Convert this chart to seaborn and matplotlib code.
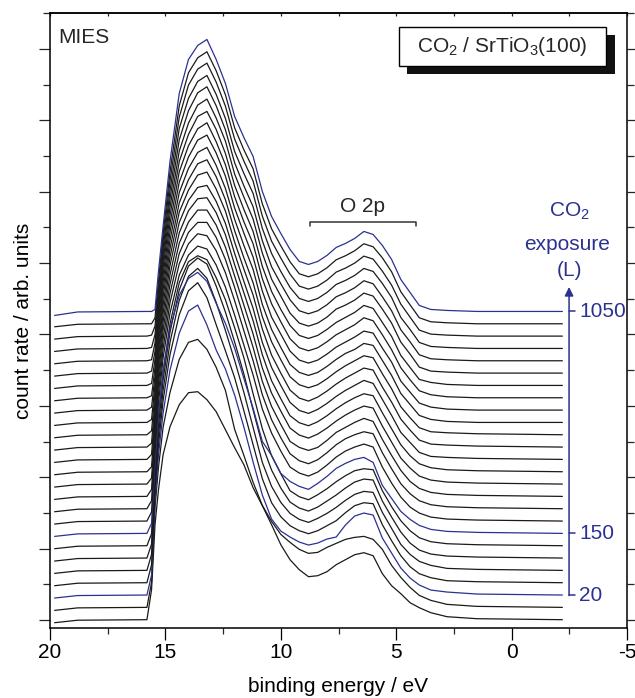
import matplotlib
matplotlib.use("Agg")
import matplotlib.pyplot as plt
from matplotlib.patches import Rectangle
from matplotlib.ticker import MultipleLocator
import pandas as pd
import seaborn as sns

# binding energies (eV) at which every MIES spectrum is tabulated
energy = [19.8, 18.8, 15.8, 15.6, 15.45, 15.3, 15.1, 14.8, 14.4, 14.0,
          13.6, 13.2, 12.8, 12.4, 12.0, 11.6, 11.2, 10.8, 10.4, 10.0,
          9.6, 9.2, 8.8, 8.4, 8.0, 7.6, 7.2, 6.8, 6.4, 6.0,
          5.6, 5.2, 4.8, 4.4, 4.0, 3.5, 2.8, 1.5, -2.2]

# count rate (arb. units) of each spectrum, first row = lowest CO2 exposure
spectra = [
    [-3, -0.5, 0, 30, 95, 130, 165, 193, 215, 227, 228, 220, 208, 190, 172, 155, 132, 114, 95, 75, 60, 50, 43, 44, 48, 55, 60, 65, 67, 64, 46, 34, 26, 17, 12, 7, 3, 1, 0],
    [-3, -0.5, 0, 25, 100, 140, 180, 215, 248, 265, 268, 258, 240, 217, 178, 152, 125, 102, 86, 73, 65, 58, 54, 55, 60, 64, 68, 70, 71, 68, 58, 42, 30, 20, 12, 7, 3, 1, 0],
    [-3, -0.5, 0, 20, 95, 140, 182, 225, 262, 284, 290, 270, 245, 226, 200, 168, 133, 100, 76, 64, 58, 53, 50, 52, 56, 58, 70, 79, 82, 80, 57, 42, 27, 17, 10, 5, 3, 1, 0],
    [-3, -0.5, 0, 18, 92, 138, 182, 228, 268, 292, 300, 285, 258, 232, 205, 172, 138, 104, 80, 66, 57, 52, 49, 52, 57, 62, 70, 77, 80, 79, 58, 42, 27, 16, 9, 5, 2, 1, 0],
    [-3, -0.5, 0, 16, 88, 135, 180, 228, 270, 294, 302, 292, 268, 240, 210, 178, 143, 108, 84, 68, 57, 51, 48, 52, 57, 63, 70, 76, 79, 78, 58, 42, 26, 16, 9, 5, 2, 1, 0],
    [-3, -0.5, 0, 14, 84, 132, 178, 226, 268, 292, 300, 294, 272, 246, 216, 184, 148, 113, 88, 70, 56, 50, 47, 51, 57, 63, 70, 76, 79, 78, 57, 41, 26, 15, 8, 4, 2, 1, 0],
    [-3, -0.5, 0, 12, 80, 128, 174, 222, 263, 284, 290, 286, 268, 246, 218, 188, 152, 117, 90, 72, 55, 49, 46, 51, 57, 64, 70, 75, 77, 76, 55, 39, 25, 15, 8, 4, 2, 1, 0],
    [-3, -0.5, 0, 10, 72, 118, 162, 205, 238, 255, 261, 252, 230, 210, 185, 155, 125, 92, 78, 60, 52, 47, 44, 50, 57, 65, 70, 74, 76, 71, 48, 35, 22, 14, 8, 4, 2, 1, 0],
    [-3, -0.5, 0, 9, 70, 118, 163, 208, 246, 266, 275, 272, 256, 234, 206, 176, 146, 112, 88, 70, 54, 48, 45, 49, 56, 64, 70, 74, 77, 74, 54, 38, 24, 14, 8, 4, 2, 1, 0],
    [-3, -0.5, 0, 8, 66, 115, 160, 206, 245, 265, 275, 273, 258, 236, 208, 178, 148, 114, 89, 71, 55, 48, 45, 49, 56, 64, 70, 74, 77, 75, 56, 40, 25, 15, 8, 4, 2, 1, 0],
    [-3, -0.5, 0, 7, 62, 112, 157, 203, 243, 264, 274, 274, 259, 237, 209, 179, 149, 115, 90, 72, 55, 49, 46, 49, 56, 64, 69, 74, 78, 75, 57, 41, 26, 15, 8, 4, 2, 1, 0],
    [-3, -0.5, 0, 6, 58, 108, 154, 200, 241, 262, 274, 274, 259, 237, 208, 179, 150, 116, 91, 73, 56, 49, 46, 50, 56, 63, 69, 74, 78, 76, 58, 42, 26, 16, 8, 4, 2, 1, 0],
    [-3, -0.5, 0, 5, 54, 104, 150, 197, 239, 261, 273, 274, 259, 237, 207, 179, 151, 117, 91, 73, 56, 49, 46, 50, 56, 63, 69, 74, 78, 76, 59, 43, 27, 16, 8, 4, 2, 1, 0],
    [-3, -0.5, 0, 5, 50, 100, 146, 194, 237, 259, 272, 274, 258, 236, 206, 178, 151, 117, 92, 74, 57, 49, 46, 50, 56, 63, 69, 74, 79, 76, 60, 44, 27, 17, 7, 3, 2, 1, 0],
    [-3, -0.5, 0, 4, 46, 95, 142, 190, 235, 257, 272, 275, 258, 236, 205, 178, 152, 118, 92, 74, 57, 49, 46, 50, 56, 63, 69, 74, 79, 77, 60, 45, 28, 17, 7, 3, 2, 1, 0],
    [-3, -0.5, 0, 4, 42, 90, 138, 186, 232, 255, 271, 275, 258, 235, 204, 177, 152, 118, 93, 75, 58, 50, 47, 50, 56, 63, 69, 74, 79, 77, 61, 46, 28, 17, 7, 3, 2, 1, 0],
    [-3, -0.5, 0, 3, 38, 85, 133, 182, 230, 254, 270, 275, 257, 234, 203, 177, 153, 118, 93, 75, 58, 50, 47, 50, 56, 63, 69, 73, 79, 77, 62, 47, 29, 18, 7, 3, 1, 0, 0],
    [-3, -0.5, 0, 3, 34, 80, 128, 178, 228, 253, 270, 275, 257, 234, 202, 177, 153, 119, 93, 76, 59, 50, 47, 50, 56, 63, 68, 73, 79, 77, 62, 48, 29, 18, 7, 3, 1, 0, 0],
    [-3, -0.5, 0, 2, 30, 75, 123, 174, 226, 252, 269, 275, 256, 233, 201, 176, 154, 119, 94, 76, 59, 50, 47, 50, 56, 63, 68, 73, 80, 77, 63, 48, 30, 18, 7, 3, 1, 0, 0],
    [-3, -0.5, 0, 2, 26, 70, 118, 170, 224, 251, 269, 274, 256, 232, 200, 176, 154, 119, 94, 76, 60, 50, 47, 50, 56, 63, 68, 73, 80, 77, 63, 49, 30, 18, 6, 3, 1, 0, 0],
    [-3, -0.5, 0, 2, 22, 64, 112, 166, 222, 250, 268, 274, 255, 232, 199, 176, 154, 120, 94, 77, 60, 50, 47, 50, 56, 64, 68, 73, 80, 77, 64, 50, 31, 19, 6, 2, 1, 0, 0],
    [-3, -0.5, 0, 1, 18, 58, 106, 162, 221, 250, 268, 274, 255, 231, 198, 175, 154, 120, 94, 77, 61, 50, 47, 50, 56, 64, 68, 73, 80, 77, 64, 50, 31, 19, 6, 2, 1, 0, 0],
    [-3, -0.5, 0, 1, 14, 52, 100, 158, 220, 250, 267, 273, 254, 230, 197, 175, 155, 120, 95, 77, 61, 50, 47, 50, 56, 64, 68, 73, 80, 77, 65, 51, 31, 19, 6, 2, 1, 0, 0],
    [-3, -0.5, 0, 1, 10, 47, 95, 155, 219, 251, 267, 273, 254, 230, 197, 175, 155, 120, 95, 78, 62, 50, 47, 50, 56, 64, 68, 73, 80, 77, 65, 51, 32, 19, 6, 2, 1, 0, 0],
    [-3, -0.5, 0, 0, 6, 43, 90, 152, 218, 251, 266, 272, 253, 229, 196, 174, 155, 120, 95, 78, 62, 50, 47, 50, 56, 64, 68, 73, 80, 77, 66, 52, 32, 19, 6, 2, 1, 0, 0],
    [-4, -0.5, 0, 0, 2, 40, 85, 150, 218, 252, 266, 272, 252, 228, 195, 174, 155, 120, 95, 78, 62, 50, 47, 50, 56, 64, 68, 73, 80, 77, 66, 52, 32, 19, 6, 2, 1, 0, 0],
]

# spectra highlighted in blue and their CO2 exposure (L)
marked_index = [2, 7, 25]
marked_exposure = ["20", "150", "1050"]

BLUE = "#2b3190"
BLACK = "#1a1a1a"
STEP = 12.33      # vertical offset between consecutive spectra
BASE = 0.3

sns.set_theme(style="ticks")
plt.rcParams["font.family"] = ["Liberation Sans", "DejaVu Sans"]
plt.rcParams["mathtext.fontset"] = "custom"
plt.rcParams["mathtext.rm"] = "Liberation Sans"
plt.rcParams["mathtext.it"] = "Liberation Sans:italic"
plt.rcParams["mathtext.default"] = "regular"
plt.rcParams["axes.unicode_minus"] = False

records = []
for i, row in enumerate(spectra):
    for e, v in zip(energy, row):
        records.append({"scan": i, "energy": e, "signal": v + BASE + STEP * i})
df = pd.DataFrame(records)
palette = {i: (BLUE if i in marked_index else BLACK) for i in range(len(spectra))}

fig = plt.figure(figsize=(6.35, 6.98), dpi=100)
ax = fig.add_axes([50 / 635, 70 / 698, 577 / 635, 615 / 698])

sns.lineplot(data=df, x="energy", y="signal", hue="scan", palette=palette,
             estimator=None, sort=False, legend=False, linewidth=0.9, ax=ax)

ax.set_xlim(20, -5)
ax.set_ylim(-8, 607)
ax.xaxis.set_major_locator(MultipleLocator(5))
ax.xaxis.set_minor_locator(MultipleLocator(2.5))
ax.yaxis.set_major_locator(MultipleLocator(71.4))
ax.yaxis.set_minor_locator(MultipleLocator(35.7))
ax.set_yticklabels([])
ax.tick_params(axis="x", which="major", direction="out", length=8.5, width=0.9,
               labelsize=15, pad=2, colors="black")
ax.tick_params(axis="x", which="minor", direction="out", length=4.5, width=0.9)
ax.tick_params(axis="y", which="major", direction="out", length=8, width=0.9,
               left=True, right=True, labelleft=False)
ax.tick_params(axis="y", which="minor", direction="out", length=5, width=0.9,
               left=True, right=True)
for s in ax.spines.values():
    s.set_linewidth(1.1)
    s.set_color("black")

top = ax.secondary_xaxis("top")
top.xaxis.set_major_locator(MultipleLocator(2.5))
top.tick_params(direction="in", length=2.5, width=0.9, labeltop=False)
top.set_xticklabels([])

ax.set_xlabel("binding energy / eV", fontsize=15, labelpad=11, color="black")
ax.set_ylabel("count rate / arb. units", fontsize=15, labelpad=4, color="black")

ax.text(0.014, 0.960, "MIES", transform=ax.transAxes, fontsize=15,
        ha="left", va="center")

# framed title with drop shadow
ax.add_patch(Rectangle((0.6187, 0.9008), 0.3603, 0.0634, transform=ax.transAxes,
                       facecolor="#111111", edgecolor="none", zorder=4))
ax.add_patch(Rectangle((0.605, 0.9138), 0.3586, 0.0632, transform=ax.transAxes,
                       facecolor="white", edgecolor="black", linewidth=1.0, zorder=5))
ax.text(0.784, 0.9455, "CO$_2$ / SrTiO$_3$(100)", transform=ax.transAxes,
        fontsize=15, ha="center", va="center", zorder=6)

# O 2p bracket
ax.plot([8.73, 8.73, 4.14, 4.14], [394, 398, 398, 394], color="#333333",
        linewidth=1.1)
ax.text(6.44, 414, "O 2p", fontsize=15, ha="center", va="center")

# exposure axis with arrow
xa = -2.49
y_low = BASE + STEP * marked_index[0]
ax.annotate("", xy=(xa, 333), xytext=(xa, y_low - 0.5),
            arrowprops=dict(arrowstyle="-|>", color=BLUE, lw=1.1,
                            mutation_scale=13, shrinkA=0, shrinkB=0))
for idx, lab in zip(marked_index, marked_exposure):
    yy = BASE + STEP * idx
    ax.plot([xa, -2.75], [yy, yy], color=BLUE, linewidth=1.1)
    ax.text(-2.92, yy, lab, color=BLUE, fontsize=15, ha="left", va="center")
ax.text(xa, 409, "CO$_2$", color=BLUE, fontsize=15, ha="center", va="center")
ax.text(xa + 0.08, 376, "exposure", color=BLUE, fontsize=15, ha="center", va="center")
ax.text(xa, 350, "(L)", color=BLUE, fontsize=15, ha="center", va="center")

fig.savefig("out.png", dpi=100)
